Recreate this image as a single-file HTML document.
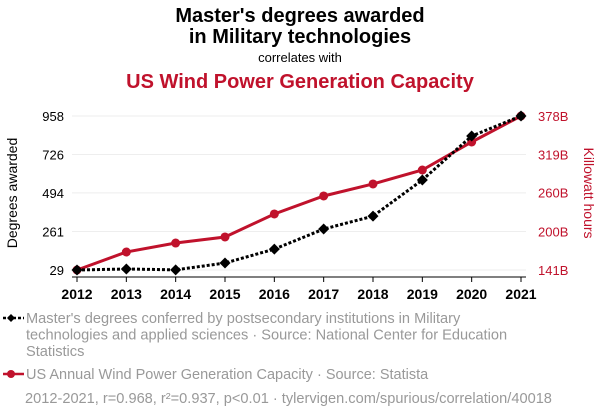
<!DOCTYPE html>
<html><head><meta charset="utf-8"><style>
body{margin:0;background:#fff;width:600px;height:414px;overflow:hidden;font-family:"Liberation Sans",sans-serif}
svg{display:block}
</style></head><body>
<svg width="600" height="414" id="chart">
<text x="300" y="22" text-anchor="middle" font-size="20" font-weight="bold" fill="#000">Master's degrees awarded</text>
<text x="300" y="43" text-anchor="middle" font-size="20" font-weight="bold" fill="#000">in Military technologies</text>
<text x="300" y="62" text-anchor="middle" font-size="13" fill="#000">correlates with</text>
<text x="300" y="88" text-anchor="middle" font-size="20" font-weight="bold" fill="#c0122c">US Wind Power Generation Capacity</text>
<text transform="translate(17,193) rotate(-90)" text-anchor="middle" font-size="14" fill="#000">Degrees awarded</text>
<text transform="translate(584,193) rotate(90)" text-anchor="middle" font-size="14" fill="#c0122c">Killowatt hours</text>
<g id="grid"></g><g id="axes"></g><g id="marks"></g>
<g>
<line x1="3" y1="318" x2="24" y2="318" stroke="#000" stroke-width="2.5" stroke-dasharray="3,2"/>
<path d="M7 318 L11 314 L15 318 L11 322Z" fill="#000"/>
<text x="26" y="323" font-size="14.6" fill="#999"><tspan x="26">Master's degrees conferred by postsecondary institutions in Military</tspan><tspan x="26" dy="16.5">technologies and applied sciences · Source: National Center for Education</tspan><tspan x="26" dy="16.5">Statistics</tspan></text>
<line x1="3" y1="374" x2="24" y2="374" stroke="#c0122c" stroke-width="2.5"/>
<circle cx="11" cy="374" r="4" fill="#c0122c"/>
<text x="26" y="379" font-size="14.5" fill="#999">US Annual Wind Power Generation Capacity · Source: Statista</text>
</g>
<text x="25" y="403" font-size="14.6" fill="#999">2012-2021, r=0.968, r²=0.937, p&lt;0.01 · tylervigen.com/spurious/correlation/40018</text>
</svg>
<script>
const years=[2012,2013,2014,2015,2016,2017,2018,2019,2020,2021];
const degrees=[29,35,30,71,155,276,354,572,837,958];
const wind=[141,168.7,182.5,191.8,227.2,254.9,273.4,294.9,338,378];
const leftTicks=[29,261,494,726,958];
const rightTicks=[141,200,260,319,378];
const ns="http://www.w3.org/2000/svg";
const x=y=>77+(y-2012)/(2021-2012)*444;
const yl=v=>270-(v-29)/(958-29)*154;
const yr=v=>270-(v-141)/(378-141)*154;
function el(t,a,p){const e=document.createElementNS(ns,t);for(const k in a)e.setAttribute(k,a[k]);document.getElementById(p).appendChild(e);return e;}
leftTicks.forEach((v,i)=>{
 const g=el('line',{x1:72,x2:526,y1:yl(v),y2:yl(v),stroke:'#eee','stroke-width':1},'grid');
 
 
 const t=el('text',{x:64,y:yl(v)+5,'text-anchor':'end','font-size':13,fill:'#000'},'axes');t.textContent=v;
 
 
});
rightTicks.forEach(v=>{
 const t=el('text',{x:538,y:yr(v)+5,'font-size':13,fill:'#c0122c'},'axes');t.textContent=v+'B';
 
 
});
const ax=el('line',{x1:72,x2:526,y1:277,y2:277,stroke:'#000','stroke-width':1},'axes');


years.forEach(yy=>{
 el('line',{x1:x(yy),x2:x(yy),y1:277,y2:282,stroke:'#000'},'axes');
 const t=el('text',{x:x(yy),y:299,'text-anchor':'middle','font-size':14,'font-weight':'bold',fill:'#000'},'axes');t.textContent=yy;
 
 
});
const rl=el('polyline',{points:years.map((yy,i)=>x(yy)+','+yr(wind[i])).join(' '),fill:'none',stroke:'#c0122c','stroke-width':3},'marks');


years.forEach((yy,i)=>{const c=el('circle',{cx:x(yy),cy:yr(wind[i]),r:4.5,fill:'#c0122c'},'marks');
 
 });
const bl=el('polyline',{points:years.map((yy,i)=>x(yy)+','+yl(degrees[i])).join(' '),fill:'none',stroke:'#000','stroke-width':3,'stroke-dasharray':'3,2'},'marks');


years.forEach((yy,i)=>{const cx=x(yy),cy=yl(degrees[i]);
 const p=el('path',{d:`M${cx-5.5} ${cy} L${cx} ${cy-5.5} L${cx+5.5} ${cy} L${cx} ${cy+5.5}Z`,fill:'#000'},'marks');
 
 });
</script>
</body></html>
